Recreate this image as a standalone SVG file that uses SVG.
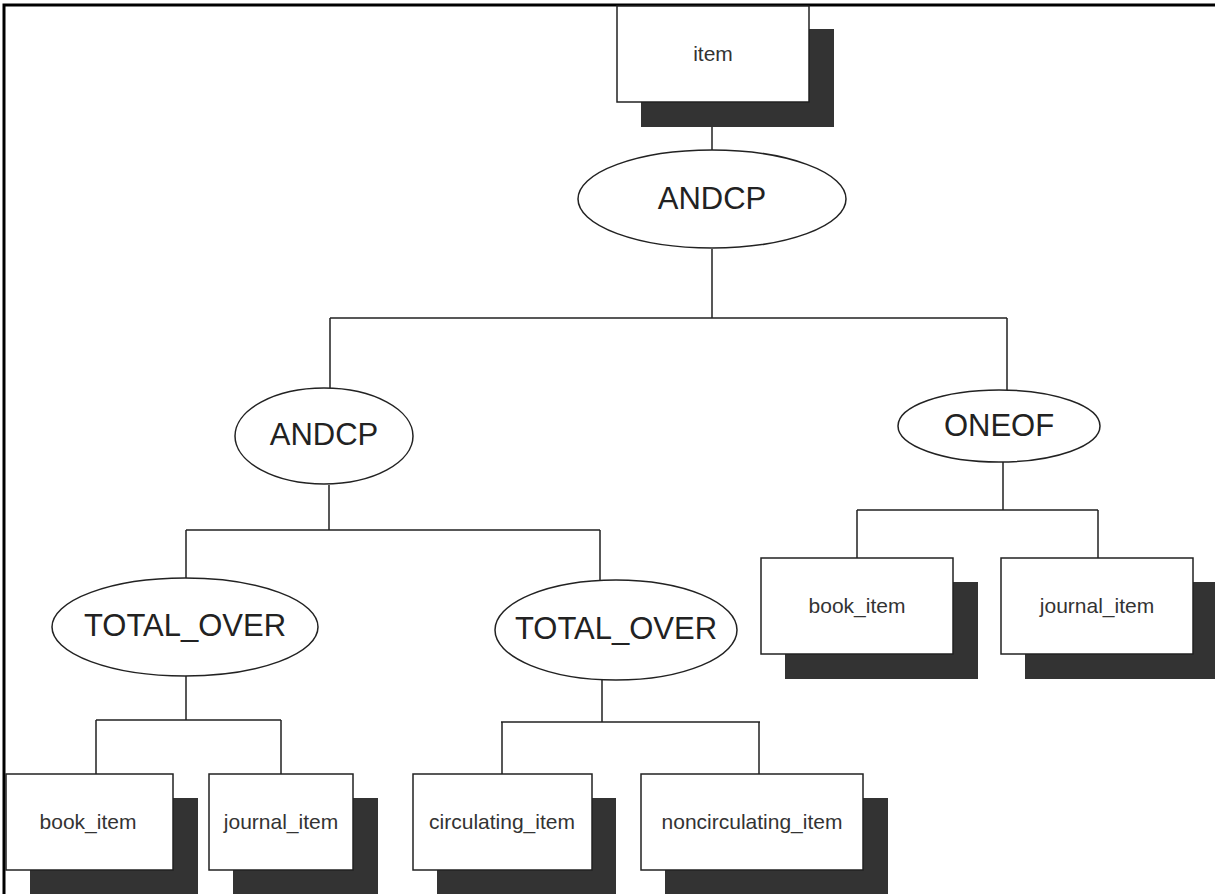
<svg xmlns="http://www.w3.org/2000/svg" width="1215" height="894" viewBox="0 0 1215 894">
  <style>
    .shadow { fill: #333333; }
    .box { fill: #ffffff; stroke: #222222; stroke-width: 1.5; }
    .oval { fill: #ffffff; stroke: #222222; stroke-width: 1.5; }
    .wire { fill: none; stroke: #222222; stroke-width: 1.5; }
    .frame { fill: none; stroke: #000000; stroke-width: 3; }
    .lbl { font-family: "Liberation Sans", Arial, sans-serif; font-size: 21px; fill: #333333; text-anchor: middle; dominant-baseline: central; }
    .op { font-family: "Liberation Sans", Arial, sans-serif; font-size: 31px; fill: #222222; text-anchor: middle; dominant-baseline: central; }
  </style>
  <rect width="1215" height="894" fill="#ffffff"/>
  <!-- frame: top and left edges only -->
  <path class="frame" d="M4,894 V5 H1215"/>

  <g id="connectors">
    <path class="wire" d="M712,102 V150"/>
    <path class="wire" d="M712,249 V318 M330,318 H1007 M330,318 V388 M1007,318 V390"/>
    <path class="wire" d="M329,485 V530 M186,530 H600 M186,530 V578 M600,530 V581"/>
    <path class="wire" d="M186,676 V720 M96,720 H281 M96,720 V774 M281,720 V774"/>
    <path class="wire" d="M602,680 V722 M501,722 H760 M502,722 V774 M759,722 V774"/>
    <path class="wire" d="M1003,462 V510 M857,510 H1098 M857,510 V558 M1098,510 V558"/>
  </g>

  <g id="item">
    <rect class="shadow" x="641" y="29" width="193" height="98"/>
    <rect class="box" x="617" y="6" width="192" height="96"/>
    <text class="lbl" x="713" y="53">item</text>
  </g>

  <g id="andcp-root">
    <ellipse class="oval" cx="712" cy="199" rx="134" ry="49"/>
    <text class="op" x="712" y="198">ANDCP</text>
  </g>

  <g id="andcp-left">
    <ellipse class="oval" cx="324" cy="436" rx="89" ry="48"/>
    <text class="op" x="324" y="434">ANDCP</text>
  </g>

  <g id="oneof">
    <ellipse class="oval" cx="999" cy="426" rx="101" ry="36"/>
    <text class="op" x="999" y="425">ONEOF</text>
  </g>

  <g id="total-over-left">
    <ellipse class="oval" cx="185" cy="627" rx="133" ry="49"/>
    <text class="op" x="185" y="625">TOTAL_OVER</text>
  </g>

  <g id="total-over-right">
    <ellipse class="oval" cx="616" cy="630" rx="121" ry="50"/>
    <text class="op" x="616" y="628">TOTAL_OVER</text>
  </g>

  <g id="oneof-book-item">
    <rect class="shadow" x="785" y="582" width="193" height="97"/>
    <rect class="box" x="761" y="558" width="192" height="96"/>
    <text class="lbl" x="857" y="605">book_item</text>
  </g>

  <g id="oneof-journal-item">
    <rect class="shadow" x="1025" y="582" width="192" height="97"/>
    <rect class="box" x="1001" y="558" width="192" height="96"/>
    <text class="lbl" x="1097" y="605">journal_item</text>
  </g>

  <g id="total-book-item">
    <rect class="shadow" x="30" y="798" width="168" height="96"/>
    <rect class="box" x="6" y="774" width="167" height="96"/>
    <text class="lbl" x="88" y="821">book_item</text>
  </g>

  <g id="total-journal-item">
    <rect class="shadow" x="233" y="798" width="145" height="96"/>
    <rect class="box" x="209" y="774" width="144" height="96"/>
    <text class="lbl" x="281" y="821">journal_item</text>
  </g>

  <g id="circulating-item">
    <rect class="shadow" x="437" y="798" width="179" height="96"/>
    <rect class="box" x="413" y="774" width="179" height="96"/>
    <text class="lbl" x="502" y="821">circulating_item</text>
  </g>

  <g id="noncirculating-item">
    <rect class="shadow" x="665" y="798" width="223" height="96"/>
    <rect class="box" x="641" y="774" width="222" height="96"/>
    <text class="lbl" x="752" y="821">noncirculating_item</text>
  </g>
</svg>
